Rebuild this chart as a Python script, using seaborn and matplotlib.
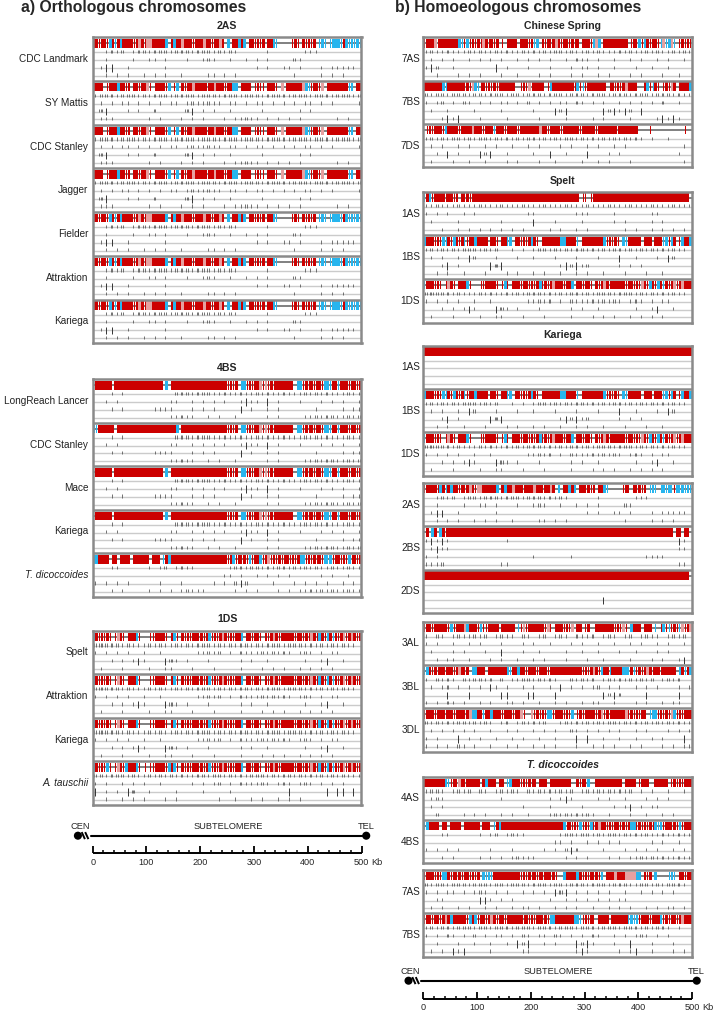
import matplotlib
matplotlib.use("Agg")
import matplotlib.pyplot as plt
import seaborn as sns

W, H = 717, 1015
sns.set_theme(style="white")
plt.rcParams['font.family'] = ['Liberation Sans', 'DejaVu Sans']

# ---------------------------------------------------------------------------
# DATA  (bar strings: one char = 5 Kb; R red block, r thin red stripe,
#        p pale red, B blue block, b thin blue stripe, - empty)
#       (tick rows: one char = 10 Kb; digits = number of short marks,
#        T = tall mark, . = none)
# ---------------------------------------------------------------------------
BAR_2AS_A = ("rRrRRrBRbR" "BRRrRrRpRr" "ppRRRRRB-R" "BRRpRRRrRR" "RpRRrRRpR-"
             "B-RRBRB-RR" "rRrR-RRBb-" "----rRr-Rr" "RrR-bBb-bB" "bBbrBbBbBb")
BAR_2AS_B = ("rRRR-rRRRB" "RRrR-RRrRR" "pr-RRRRrB-" "rB-RrRRpRR" "RRrRRpRRRr"
             "RRBB-RRRR-" "rRrr-RRRr-" "p-RRRRRRpB" "brRRrp-RRR" "RRRRRbB-RR")
BAR_4BS_A = ("-RRRRRR-RR" "RRRRRRRRRR" "RRRRRR-B-R" "RRRRRRRRRR" "RRRRRRRRRR"
             "rRrR-BBrRr" "RrprprRrRR" "RRRRr-BbrR" "rRrRRrBBbR" "rbRrRrRRrR")
BAR_4BS_B = ("BbRRRRRR-R" "RRRRRRRRRR" "RRRRRRRRRR" "RB-RRRRRRR" "RRRRRRRRRR"
             "rRrR-BBrRr" "RrprprRrRR" "RRRRr-BbrR" "rRrRRrBBbR" "rbRrRrRRrR")
BAR_4BS_T = ("bBRRRR-RR-" "RRRR-RRRRR" "R-RRR-bRBR" "RRRRRRRRRR" "RRRRRRRRRR"
             "rRBrRrRrBr" "RrBrRprRrR" "rRRrRrRBBr" "RrRrRrBbBr" "RRrRrBrRrR")
BAR_1DS_A = ("bRrRrRr-rp" "Rr-RRRBr--" "-rrRRRRr-r" "Br-RrRrRRr" "RrRBrRrRpR"
             "rRrRRB-RRr" "RRr-RrRpRr" "RRRRRrRRrR" "rpRrBRrBRb" "RrRprRpRrR")
BAR_1DS_T = ("bRrRrBr-rp" "RrBRRRBr-r" "-rrRRRRrBr" "Br-RrRrRRr" "RrRBrRrRpR"
             "rRrRRB-RRr" "RRr-RrRpRr" "RRRRRrRRrR" "rpRrBRrBRb" "RrRprRpRrR")
BAR_CS7AS = ("rRrRprRRRR" "RRRBbrBrRr" "RrpRrRrR-r" "-RRRR-RRRr" "RbB-RrRrRp"
             "RrRRrRrR-R" "RRrBpB-RRR" "RRRRRR-rRr" "BrbRrRRrbp" "bBpb-rRrRr")
BAR_CS7BS = ("RRrRRRRBbR" "RRRRRrRrpB" "brRrRrRrRR" "RRRR--rRrp" "rRRRR-rBRR"
             "RRRRRRrBrb" "rRRRRRRR-r" "RrRrRpRRRr" "--rBrbRr-r" "RrpR-RRRRB")
BAR_CS7DS = ("-rRrRRRrBR" "RRRrRRRRpR" "RRrRRRbRRR" "rRRRRrRRRR" "RRRpRRrRRR"
             "RrRRRRRRrR" "RRRRrRRRRR" "RRrRRRRRRR" "----r-----" "-------r--")
BAR_SP1AS = ("bRBrRRRRrR" "RrR-RrRrRR" "RRRRRRRRRR" "RRRRRRRRRR" "RRRRRRRRRR"
             "RRRRRRRR-r" "r-rRRRRRRR" "RRRRRRRRRR" "RRRRRRRRRR" "RRRRRRRRR-")
BAR_SP1BS = ("BRrRrRrBbR" "rBRrRbrRrB" "RRRR-RRr-R" "RbB-rRrRrR" "BRr-RRRRRR"
             "RBBRRRRb-R" "RRRRRRrBrR" "rRr-BbRRRR" "R-RRR-RRRb" "BrBR-rBRrB")
BAR_K1AS = ("RRRRRRRRRR" "RRRRRRRRRR" "RRRRRRRRRR" "RRRRRRRRRR" "RRRRRRRRRR"
            "RRRRRRRRRR" "RRRRRRRRRR" "RRRRRRRRRR" "RRRRRRRRRR" "RRRRRRRRRR")
BAR_K2BS = ("-R-BR-BRrR" "RRRRRRRRRR" "RRRRRRRRRR" "RRRRRRRRRR" "RRRRRRRRRR"
            "RRRRRRRRRR" "RRRRRRRRRR" "RRRRRRRRRR" "RRRRRRRRRR" "RRR-RR-RR-")
BAR_K2DS = ("RRRRRRRRRR" "RRRRRRRRRR" "RRRRRRRRRR" "RRRRRRRRRR" "RRRRRRRRRR"
            "RRRRRRRRRR" "RRRRRRRRRR" "RRRRRRRRRR" "RRRRRRRRRR" "RRRRRRRRR-")
BAR_K3AL = ("rRrrRRRRRr" "BrRRRpBRRR" "rBrrRRRR-R" "RRRR-brprR" "RRRRRrpr-R"
            "rRrRrp-RR-" "rR--RRRRRR" "RrRrpr-BRR" "R-RRR-b-rB" "rbrRrbprRp")
BAR_K3BL = ("bBRrRrRRrR" "RrRpRrR-BB" "RRR-RRRRRR" "RBbRRBRRrR" "RRrRRRrRRR"
            "RRRRRRRRRr" "RrRpRrBRRb" "RRRRBBbRbr" "RrRpRrRRrR" "RRRR-BRbRB")
BAR_K3DL = ("rRRRrRRRrR" "RrRRRrRpBB" "RRbRRBRRRr" "RRRrRRpr--" "prRrRrBBrR"
            "rRrRrB-rRr" "RRRRrRprRr" "RRRRRprRrR" "rRr-bBBrRr" "RrpBrRrRrR")
BAR_T4AS = ("RRRRRRRRBb" "rRrpRrRRrR" "R-RBRRR-RR" "-bBRrRrRrR" "rR-RRR-RRR"
            "RRRRR--RrR" "rB--RRRRRR" "RRRR-RRRR-" "rRrR--RRRR" "R-rRrRrRrR")
BAR_T7AS = ("rRrRrRrBBR" "rRrRrRRrRr" "R-BbBbRRRR" "RRRRrRrRrR" "rRrRrRRrRr"
            "--BRRRRBRr" "RrRrRrB-RR" "RpRRRppppB" "B-RrR-B---" "-bBb-RRrRR")
BAR_T7BS = ("rRRrRRrRpR" "BRRRRRrBrB" "rRRrRpRrRR" "rRRRRRRrRr" "RrRRrRrBBR"
            "RRRRRRBBbr" "RrRr-RRRR-" "RRRRRRbBbB" "rRrRrRRRBr" "RrRRrRpRrR")

TICKS_2AS_A = ["..1212.122" "1222122212" "2212121..." "..1......1" "11........",
               "..1....1.." "11.1...1.." "121..1..1." "1.1....21." "..........",
               ".1TT..1..." "...1......" ".........." "1.1..11.1." "..1.11111.",
               "..1.1.1..1" ".1.1..1..." ".11.1.1..." ".......1.." "..1.1.1..."]
TICKS_2AS_B = ["1222122212" "1222122221" "2221222122" "2122221222" "1222122212",
               ".1.1.11.1." "1.1.11.121" "1211.11.1." "11.1.1.1.1" "1.1.1....1",
               ".3T...1.1." ".2.....3T." "1.1..1...." ".1......1." "1.........",
               ".111......" "1.1...1.1." "1...1.1121" "1.1.1.1.1." ".....1.1.."]
TICKS_4BS_A = ["...1.1...." ".....22212" "2211211211" "2121121112" "1212111211",
               "..1.1....." "....11..1." "1.1.1..1T1" "1.T.1...1." "..1.1.1..1",
               "...1.1...." ".1111...1." "1.1....T.1" "..1.1....." ".1....1.11",
               ".........." "....11211." ".1.1..1..." "..1.1....1" "1212211212"]
TICKS_4BS_T = ["...11....." "1.12.1211." ".....12212" "2121221212" "1211211211",
               ".........." ".........." "....11.1.." "1.1.1.1..." "..1.1..1..",
               "1.1.1.1..." "..1...1..." "..1.1.2T2." "...1...1.1" ".1.1..1.1.",
               "...1.1...." "1.1.1.1211" "1.....1.1." "1...1.1.11" "2121211211"]
TICKS_1DS_A = ["2322212111" "2121121212" "2212121221" "2122212221" "212121211.",
               "1.1.1.1..1" "..1......1" "1212.1.211" "1212121.12" "1.1.11....",
               "...1.1.1T1" "...T31.1.." ".1.....1.1" "..1......1" "..1T..1...",
               ".1...1...." "1..11...1." "..1....1.." ".1.1.1..1." "1.1.1....."]
TICKS_1DS_T = ["2212221211" "2121212112" "2122121212" "2212122121" "2121212111",
               "1.1..1.1.1" "..1.....1." "1.12.1.211" "121.121.12" "1.1.1.1...",
               "T.1.1.T3.." "1....1...." "1....1...." "......T..." "...T.TT.T.",
               "..1..1.1.1" "...1.1...." "...1..1..1" ".1..1.1.1." ".........."]
TICKS_CS7AS = ["1211211121" "2112121121" "2121221211" "2121112121" "1212112121",
               ".1.1.1..1." "1.1.1..1.1" ".1.1..1.21" "1.1..1..1." "1..1.1..1.",
               "1T2..1...." "...T.1...1" "...1...1.1" "1.1..1...1" "..1..1....",
               "..1...1.1." "1...1..1.." ".1.1...1.1" "..1.1...1." "1...1..1.."]
TICKS_CS7BS = ["2122122212" "2122212212" "2212221222" "1222122212" "2212221211",
               "1.12.1.21." "1.1.11.1.2" ".1.1.11.21" ".1.1..1.1." "1.1.2..1..",
               ".1..1....1" "....1....." "1...T2T..." "...T2T1T2." "T.........",
               "...1T1T..." "1....1...." ".1....1..." ".1.1....1." "...1T1T1.."]
TICKS_CS7DS = ["1212122121" "2212121212" "2121212212" "1212121212" "1.1..1....",
               ".1.1..1.1." ".1.1..1..1" ".1...1.1.." "1.1..1.1.." "........1.",
               "..1.T.1..." "T2T..1...." "1..T..1..." "T...1.1..." ".......1..",
               ".1...1..1." ".1...1.1.." ".1..1....1" "..1.1...1." "........1."]
TICKS_SP1AS = ["1121112111" "2111211121" "1121112111" "2111211121" "1121112111",
               "1.1.1..1.1" ".........1" "1.......11" "1....1...." "..11......",
               ".1....1..." "....1....." "T...1....1" ".....1.1.." "..1.1.....",
               "...1..1.1." "1.1.1.1.1." "...1.1..1." "1......1.1" "..1.1.1.1."]
TICKS_SP1BS = ["1212121222" "1212..1.1." "1221212122" "1212122121" "212121211.",
               ".1.1..1.T2" "...1...1.." "1...1...1." "..1...T..1" "...1.T2...",
               "...1T.1..." "..T3T....." ".....1T2T1" "2.....1.1." "1.........",
               "..1.1..1.." ".1...1.1.." "1.1..1..1." "1..1...1.." ".1..1....."]
TICKS_K1AS = ["", "", "", ""]
TICKS_K2BS = ["1T1T1....." ".....1...." ".........." ".........." ".......T1.",
              ".1T11....." ".........." ".........." ".........." ".......11.",
              "1.1......." ".........." "1......1.." ".........." ".1111.....",
              "1112......" "....11...." ".........." ".........." ".......11."]
TICKS_K2DS = ["", "",
              ".........." ".........." ".........." "...T......" "..........",
              ""]
TICKS_K3AL = ["1.21.12112" "12.1211.21" ".12.121.21" "12.121.12." "1211.1212.",
              "1.1..1..1." "1...1...1." "1..1...1.1" "..1..1..1." "1..1.1..1.",
              ".1...1.1.." ".1..T...1." ".1....1..1" "..1...1..1" "...1.1....",
              "..1.11..1." "..1.1..1.." "1.1...1..." "1..1....1." "..1.1..1T."]
TICKS_K3BL = ["1.2121.212" "212.2.1122" "12121..212" "12.1212121" "212.1212..",
              ".1.12.1.1." "1.T1.1..1." "1..1.T.1.1" ".12.1.1..1" ".1.1...1.1",
              "....T...T." "....TT...T" "T...T....." "...T2T2..." ".T.....T..",
              "1.1.21.1.." "1.1..11.1." ".1..1.1..1" ".11..1...1" ".1..1.11.."]
TICKS_K3DL = ["2121212212" "121.12.121" "212..12121" "2121221212" "1212121211",
              ".1.1.1.1.1" "..1..1.1.." "1.1.1..21." "1.1.1.1..1" ".1...1.1.1",
              "1.1...T.1." "1..1..1.1." ".1..1...T." "T..1..1..1" "..1.1...T.",
              "1.1.1.21.1" "..1..1.1.." "1.1.1...1." ".1.1.1..1." "1...1.1.11"]
TICKS_T4AS = ["1221.1212." "21.12121.2" "12121212.1" "212121212." "1.1..1..1.",
              ".121......" "....1....." "...1.1T1.." "..1.1..1.." ".1.1.1....",
              ".1.1......" "........1." "...1.....1" ".....1.1T." "1.11......",
              "..2....1.1" ".1..1.1..1" "...1212121" "21..1...1." ".1..1.1..."]
TICKS_T7AS = ["2122122212" "2212212221" "2221221222" "1222122211" "221212221.",
              "1.1.11.1.1" "21.1.1..1." "1.1.T3T.1." "1.1.1..1.." "1.1.1.1...",
              "..11......" "TT1.1.1..." "...1..1.1." "1.1.1.11.." "..........",
              ".1.1..1.1." ".1.1..1.11" ".1..1.1.1." ".1..1.1.1." ".1.1.11.1."]
TICKS_T7BS = ["1212212221" "2212221222" "1222122212" "2212221222" "121221.1..",
              "1.1.21.1.2" ".1.11.1.21" ".11.21.1.1" ".21..1.1.1" "21.1.1....",
              "..1...1..1" "..1..1.T2T" "..1.1...T2" "T1...1..T." "..1...1...",
              ".1.1.T1T.." "..1.....11" "........1T" "1.....1.1T" "..1...1.1."]

PATTERNS = {
    "2AS_A": (BAR_2AS_A, TICKS_2AS_A), "2AS_B": (BAR_2AS_B, TICKS_2AS_B),
    "4BS_A": (BAR_4BS_A, TICKS_4BS_A), "4BS_B": (BAR_4BS_B, TICKS_4BS_A),
    "4BS_T": (BAR_4BS_T, TICKS_4BS_T),
    "1DS_A": (BAR_1DS_A, TICKS_1DS_A), "1DS_T": (BAR_1DS_T, TICKS_1DS_T),
    "CS7AS": (BAR_CS7AS, TICKS_CS7AS), "CS7BS": (BAR_CS7BS, TICKS_CS7BS),
    "CS7DS": (BAR_CS7DS, TICKS_CS7DS),
    "SP1AS": (BAR_SP1AS, TICKS_SP1AS), "SP1BS": (BAR_SP1BS, TICKS_SP1BS),
    "K1AS": (BAR_K1AS, TICKS_K1AS), "K2BS": (BAR_K2BS, TICKS_K2BS),
    "K2DS": (BAR_K2DS, TICKS_K2DS),
    "K3AL": (BAR_K3AL, TICKS_K3AL), "K3BL": (BAR_K3BL, TICKS_K3BL),
    "K3DL": (BAR_K3DL, TICKS_K3DL),
    "T4AS": (BAR_T4AS, TICKS_T4AS), "T7AS": (BAR_T7AS, TICKS_T7AS),
    "T7BS": (BAR_T7BS, TICKS_T7BS),
}

LEFT_TITLE = "a) Orthologous chromosomes"
RIGHT_TITLE = "b) Homoeologous chromosomes"

LEFT_2AS = [("CDC Landmark", "2AS_A", False), ("SY Mattis", "2AS_B", False),
            ("CDC Stanley", "2AS_B", False), ("Jagger", "2AS_B", False),
            ("Fielder", "2AS_A", False), ("Attraktion", "2AS_A", False),
            ("Kariega", "2AS_A", False)]
LEFT_4BS = [("LongReach Lancer", "4BS_A", False), ("CDC Stanley", "4BS_B", False),
            ("Mace", "4BS_A", False), ("Kariega", "4BS_A", False),
            ("T. dicoccoides", "4BS_T", True)]
LEFT_1DS = [("Spelt", "1DS_A", False), ("Attraktion", "1DS_A", False),
            ("Kariega", "1DS_A", False), ("A. tauschii", "1DS_T", True)]
RIGHT_CS = [("7AS", "CS7AS", False), ("7BS", "CS7BS", False), ("7DS", "CS7DS", False)]
RIGHT_SP = [("1AS", "SP1AS", False), ("1BS", "SP1BS", False), ("1DS", "1DS_A", False)]
RIGHT_K1 = [("1AS", "K1AS", False), ("1BS", "SP1BS", False), ("1DS", "1DS_A", False)]
RIGHT_K2 = [("2AS", "2AS_A", False), ("2BS", "K2BS", False), ("2DS", "K2DS", False)]
RIGHT_K3 = [("3AL", "K3AL", False), ("3BL", "K3BL", False), ("3DL", "K3DL", False)]
RIGHT_T1 = [("4AS", "T4AS", False), ("4BS", "4BS_T", False)]
RIGHT_T2 = [("7AS", "T7AS", False), ("7BS", "T7BS", False)]

MAJOR_TICKS = [0, 100, 200, 300, 400, 500]
MINOR_STEP = 20
SCALE_MAX = 500

# ---------------------------------------------------------------------------
# STYLE / LAYOUT
# ---------------------------------------------------------------------------
RED, BLUE, PINK = "#cc0000", "#27b5ee", "#e6a0a0"
COLORS = {"R": RED, "r": RED, "B": BLUE, "b": BLUE, "p": PINK}
EDGE = "#8a8a8a"
ROW_OFF = [15.0, 22.8, 30.6, 38.4]
BAR_TOP, BAR_BOT, BAR_MID = 1.8, 10.3, 6.0
LX0, LX1 = 92.7, 361.5
RX0, RX1 = 423.3, 692.0

fig = plt.figure(figsize=(W / 100, H / 100), dpi=100)
fig.patch.set_facecolor("white")


def fx(x):
    return x / W


def fy(y):
    return 1 - y / H


def bar_runs(bar):
    s = bar.ljust(100, "-")[:100]
    out = {k: [] for k in COLORS}
    i = 0
    while i < len(s):
        ch = s[i]
        if ch in "RBp":
            j = i
            while j < len(s) and s[j] == ch:
                j += 1
            out[ch].append((i * 5, (j - i) * 5))
            i = j
        else:
            if ch in "rb":
                out[ch].append((i * 5 + 1.5, 2.0))
            i += 1
    return out


def draw_track(ax, top, bar, ticks):
    ax.plot([0, 500], [top + BAR_MID, top + BAR_MID], color="#767676", lw=1.3,
            solid_capstyle="butt", zorder=1)
    for ch, segs in bar_runs(bar).items():
        if segs:
            ax.broken_barh(segs, (top + BAR_TOP, BAR_BOT - BAR_TOP),
                           facecolors=COLORS[ch], edgecolor="none", zorder=2)
    for k in range(4):
        yl = top + ROW_OFF[k]
        ax.plot([0, 500], [yl, yl], color="#cbcbcb", lw=1.0,
                solid_capstyle="butt", zorder=1)
        row = ticks[k].ljust(50, ".")[:50] if k < len(ticks) else "." * 50
        xs_s, xs_t = [], []
        for j, ch in enumerate(row):
            if ch in "123":
                n = int(ch)
                for m in range(n):
                    xs_s.append(j * 10 + (m + 1) * 10.0 / (n + 1))
            elif ch == "T":
                xs_t.append(j * 10 + 5)
        if xs_s:
            ax.vlines(xs_s, yl - 2.4, yl + 0.8, color="#4d4d4d", lw=0.55, zorder=3)
        if xs_t:
            ax.vlines(xs_t, yl - 3.6, yl + 3.6, color="#333333", lw=0.7, zorder=3)


def draw_box(x0, x1, y0, y1, tracks, label_x):
    ax = fig.add_axes([fx(x0), fy(y1), fx(x1) - fx(x0), fy(y0) - fy(y1)])
    n = len(tracks)
    pitch = (y1 - y0) / n
    for k, (name, key, ital) in enumerate(tracks):
        top = k * pitch
        bar, ticks = PATTERNS[key]
        draw_track(ax, top, bar, ticks)
        if k > 0:
            ax.axhline(top, color=EDGE, lw=1.8, zorder=5)
        fig.text(fx(label_x), fy(y0 + top + pitch / 2), name, ha="right",
                 va="center", fontsize=7.2, color="#222222",
                 style="italic" if ital else "normal")
    ax.set_xlim(0, 500)
    ax.set_ylim(y1 - y0, 0)
    ax.set_xticks([])
    ax.set_yticks([])
    ax.set_facecolor("white")
    for sp in ax.spines.values():
        sp.set_visible(True)
        sp.set_color(EDGE)
        sp.set_linewidth(1.8)
        sp.set_zorder(6)
    return ax


def draw_scale(x0, x1, y_text, y_line, y_base, y_lab):
    ppk = (x1 - x0) / SCALE_MAX
    kb_lo, kb_hi = -45, 545
    px_lo, px_hi = x0 + kb_lo * ppk, x0 + kb_hi * ppk
    px_hi = min(px_hi, W)
    kb_hi = (px_hi - x0) / ppk
    ytop, ybot = y_text - 10, min(y_lab + 8, H)
    ax = fig.add_axes([fx(px_lo), fy(ybot), fx(px_hi) - fx(px_lo), fy(ytop) - fy(ybot)])
    ax.set_xlim(kb_lo, kb_hi)
    ax.set_ylim(ybot, ytop)
    ax.axis("off")
    fs = 6.7
    cen_kb, tel_kb = -27.5, 508.8
    ax.text(-23.5, y_text, "CEN", ha="center", va="center", fontsize=fs)
    ax.text(252, y_text, "SUBTELOMERE", ha="center", va="center", fontsize=fs)
    ax.text(tel_kb, y_text, "TEL", ha="center", va="center", fontsize=fs)
    ax.plot([-4, tel_kb], [y_line, y_line], color="black", lw=1.5, zorder=2)
    for zx in (-20.5, -14.0):
        ax.plot([zx, zx + 6.0], [y_line - 3.6, y_line + 3.4], color="black",
                lw=1.4, solid_capstyle="butt")
    sns.scatterplot(x=[cen_kb, tel_kb], y=[y_line, y_line], ax=ax, s=34,
                    color="black", edgecolor="none", legend=False, zorder=3)
    ax.plot([0, SCALE_MAX], [y_base, y_base], color="black", lw=1.4,
            solid_capstyle="butt")
    minors = [v for v in range(0, SCALE_MAX + 1, MINOR_STEP) if v not in MAJOR_TICKS]
    ax.vlines(minors, y_base - 3.6, y_base, color="black", lw=1.1)
    ax.vlines(MAJOR_TICKS, y_base - 7.0, y_base, color="black", lw=1.3)
    for v in MAJOR_TICKS:
        ax.text(v, y_lab, str(v), ha="center", va="center", fontsize=6.6)
    ax.text(519, y_lab, "Kb", ha="left", va="center", fontsize=6.6)
    ax.set_xlim(kb_lo, kb_hi)
    ax.set_ylim(ybot, ytop)


# ---------------------------------------------------------------------------
# FIGURE
# ---------------------------------------------------------------------------
fig.text(fx(21), fy(7.5), LEFT_TITLE, ha="left", va="center", fontsize=11.3,
         fontweight="bold")
fig.text(fx(395), fy(7.5), RIGHT_TITLE, ha="left", va="center", fontsize=11.3,
         fontweight="bold")

# left panel
for title, ty, y0, y1, tracks in [("2AS", 26.0, 37.3, 343.2, LEFT_2AS),
                                  ("4BS", 368.3, 379.3, 596.7, LEFT_4BS),
                                  ("1DS", 619.0, 630.7, 805.0, LEFT_1DS)]:
    fig.text(fx((LX0 + LX1) / 2), fy(ty), title, ha="center", va="center",
             fontsize=7.6, fontweight="bold")
    draw_box(LX0, LX1, y0, y1, tracks, 88.3)

# right panel
for title, ty, ital, boxes in [
        ("Chinese Spring", 26.0, False, [(37.3, 167.3, RIGHT_CS)]),
        ("Spelt", 180.7, False, [(191.7, 322.7, RIGHT_SP)]),
        ("Kariega", 335.0, False, [(345.7, 475.5, RIGHT_K1),
                                   (483.0, 613.0, RIGHT_K2),
                                   (621.7, 751.7, RIGHT_K3)]),
        ("T. dicoccoides", 765.0, True, [(776.7, 863.3, RIGHT_T1),
                                         (870.0, 956.7, RIGHT_T2)])]:
    fig.text(fx(563), fy(ty), title, ha="center", va="center", fontsize=7.6,
             fontweight="bold", style="italic" if ital else "normal")
    for y0, y1, tracks in boxes:
        draw_box(RX0, RX1, y0, y1, tracks, 420.0)

draw_scale(LX0, LX1, 826.7, 835.7, 853.3, 862.3)
draw_scale(RX0, RX1, 971.7, 980.7, 999.3, 1007.3)

fig.savefig("out.png", dpi=100, facecolor="white")
